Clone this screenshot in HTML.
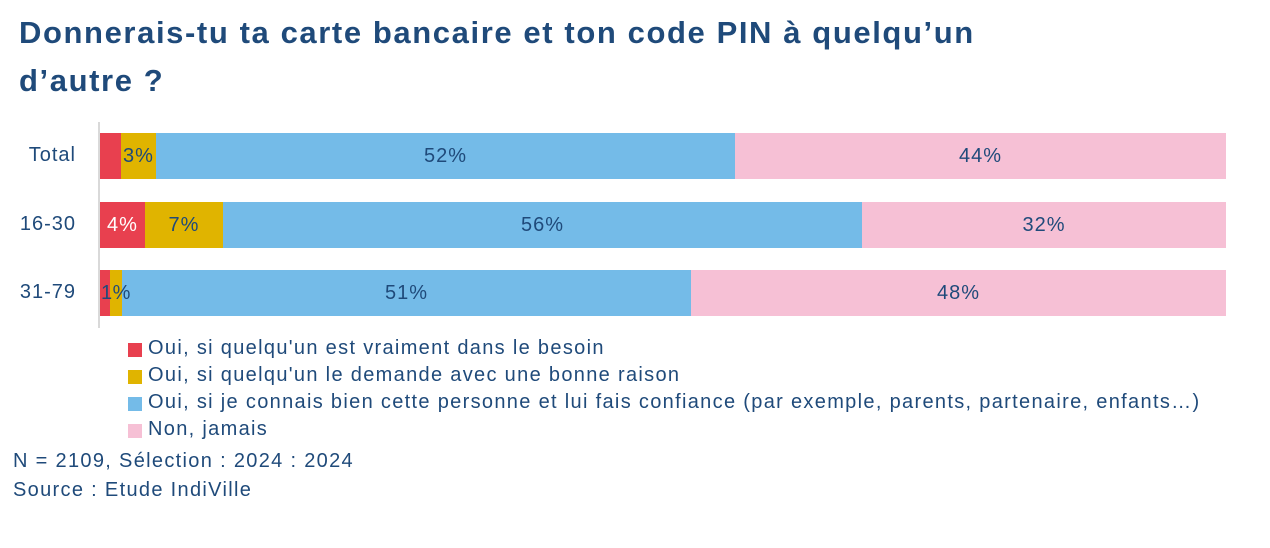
<!DOCTYPE html>
<html><head><meta charset="utf-8"><style>
body{margin:0;width:1270px;height:548px;background:#fff;font-family:"Liberation Sans",sans-serif;color:#1f4a7a;position:relative;overflow:hidden}
.t{position:absolute;left:19px;font-weight:bold;font-size:31px;color:#1f4a7a;letter-spacing:1.6px;white-space:nowrap}
.s{position:absolute;height:46px;line-height:46px;text-align:center;font-size:20px;color:#1f4a7a;letter-spacing:1px}
.l{position:absolute;font-size:20px;white-space:nowrap;letter-spacing:1.32px}
.sq{position:absolute;width:14px;height:14px;left:128px}
.lab{position:absolute;left:0;width:76px;text-align:right;font-size:20px;letter-spacing:1px}
</style></head><body>
<div class="t" style="top:15px">Donnerais-tu ta carte bancaire et ton code PIN à quelqu’un</div>
<div class="t" style="top:63px">d’autre ?</div>
<div style="position:absolute;left:98px;top:122px;width:2px;height:206px;background:#d9d9d9"></div>

<div class="lab" style="top:144px">Total</div>
<div class="s" style="top:133px;left:100px;width:21px;background:#e8404f"></div>
<div class="s" style="top:133px;left:121px;width:35px;background:#e0b400">3%</div>
<div class="s" style="top:133px;left:156px;width:579px;background:#74bbe8">52%</div>
<div class="s" style="top:133px;left:735px;width:491px;background:#f6c0d5">44%</div>

<div class="lab" style="top:213px">16-30</div>
<div class="s" style="top:202px;left:100px;width:45px;background:#e8404f;color:#fff">4%</div>
<div class="s" style="top:202px;left:145px;width:78px;background:#e0b400">7%</div>
<div class="s" style="top:202px;left:223px;width:639px;background:#74bbe8">56%</div>
<div class="s" style="top:202px;left:862px;width:364px;background:#f6c0d5">32%</div>

<div class="lab" style="top:281px">31-79</div>
<div class="s" style="top:270px;left:100px;width:10px;background:#e8404f"></div>
<div class="s" style="top:270px;left:110px;width:12px;background:#e0b400"></div>
<div class="s" style="top:270px;left:122px;width:569px;background:#74bbe8">51%</div>
<div class="s" style="top:270px;left:691px;width:535px;background:#f6c0d5">48%</div>
<div class="l" style="top:282px;left:101px;letter-spacing:0.5px">1%</div>

<div class="sq" style="top:343px;background:#e8404f"></div><div class="l" style="left:148px;top:337px">Oui, si quelqu'un est vraiment dans le besoin</div>
<div class="sq" style="top:370px;background:#e0b400"></div><div class="l" style="left:148px;top:364px">Oui, si quelqu'un le demande avec une bonne raison</div>
<div class="sq" style="top:397px;background:#74bbe8"></div><div class="l" style="left:148px;top:391px">Oui, si je connais bien cette personne et lui fais confiance (par exemple, parents, partenaire, enfants…)</div>
<div class="sq" style="top:424px;background:#f6c0d5"></div><div class="l" style="left:148px;top:418px">Non, jamais</div>
<div class="l" style="left:13px;top:450px">N = 2109, Sélection : 2024 : 2024</div>
<div class="l" style="left:13px;top:479px">Source : Etude IndiVille</div>
</body></html>
